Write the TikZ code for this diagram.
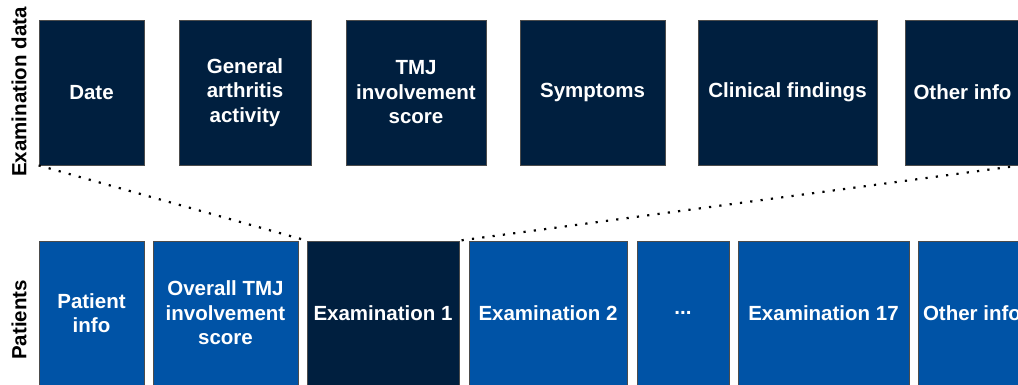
\documentclass[tikz,border=0pt]{standalone}
\usepackage{fontspec}
\setmainfont{Liberation Sans}
\definecolor{navy}{HTML}{001F3F}
\definecolor{patblue}{HTML}{0053A6}

\begin{document}
\begin{tikzpicture}[x=1pt, y=1pt,
	box/.style={draw=black!70, line width=0.8pt, text=white, align=center, inner sep=0pt, font=\fontsize{20.5}{24.5}\selectfont\bfseries},
	exambox/.style={box, fill=navy, minimum height=145pt},
	patbox/.style={box, fill=patblue, minimum height=144pt},
	sidelabel/.style={rotate=90, font=\fontsize{20.5}{24}\selectfont\bfseries},
	dotline/.style={line width=2.2pt, dash pattern=on 2.2pt off 8.2pt}]
						\useasboundingbox (0, 0) rectangle (1018, 385);
						% examination data
						\node[sidelabel] (lblexam) at (19, 293) {Examination data};
						\node[exambox, minimum width=105pt] (date) at (91.5, 292.5) {Date};
						\node[exambox, minimum width=132pt] (arthritis) at (245, 292.5) {General\\arthritis\\activity};
						\node[exambox, minimum width=140pt] (tmj) at (416, 292.5) {TMJ\\involvement\\score};
						\node[exambox, minimum width=145pt] (symptoms) at (592.5, 292.5) {Symptoms};
						\node[exambox, minimum width=179pt] (clinical) at (787.5, 292.5) {Clinical findings};
						\node[exambox, minimum width=115pt] (otherexam) at (962.5, 292.5) {Other info};
						% patients
						\node[sidelabel] (lblpat) at (19, 65) {Patients};
						\node[patbox, minimum width=105pt] (patinfo) at (91.5, 72) {Patient\\info};
						\node[patbox, minimum width=145pt] (overall) at (225.5, 72) {Overall TMJ\\involvement\\score};
						\node[exambox, minimum height=144pt, minimum width=152pt] (exam1) at (383, 72) {Examination 1};
						\node[patbox, minimum width=158pt] (exam2) at (548, 72) {Examination 2};
						\node[patbox, minimum width=92pt] (dots) at (683, 72) {...};
						\node[patbox, minimum width=171pt] (exam17) at (823.5, 72) {Examination 17};
						\node[patbox, minimum width=108pt] (otherpat) at (972, 72) {Other info};
						% zoom lines
						\draw[dotline] (date.south west) -- (exam1.north west);
						\draw[dotline] (otherexam.south east) -- (exam1.north east);
					\end{tikzpicture}
\end{document}
